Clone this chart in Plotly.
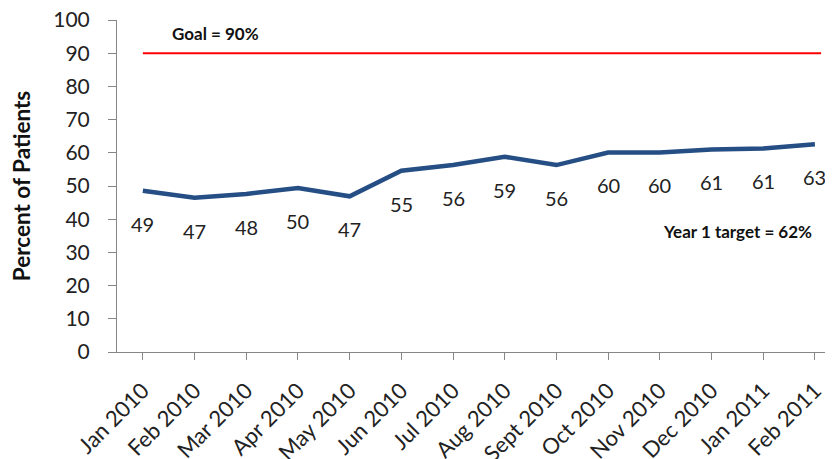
import plotly.graph_objects as go

months = ["Jan 2010", "Feb 2010", "Mar 2010", "Apr 2010", "May 2010", "Jun 2010",
          "Jul 2010", "Aug 2010", "Sept 2010", "Oct 2010", "Nov 2010", "Dec 2010",
          "Jan 2011", "Feb 2011"]
percent = [48.6, 46.5, 47.6, 49.4, 46.9, 54.6, 56.3, 58.8, 56.3, 60.1, 60.1, 61.0, 61.3, 62.6]
point_labels = ["49", "47", "48", "50", "47", "55", "56", "59", "56", "60", "60", "61", "61", "63"]
goal = 90
y_ticks = [0, 10, 20, 30, 40, 50, 60, 70, 80, 90, 100]

FONT = "Lato, 'Open Sans', sans-serif"
idx = list(range(len(months)))

fig = go.Figure()
fig.add_trace(go.Scatter(x=[0, len(months) - 1 + 0.12], y=[goal, goal], mode="lines",
                         line=dict(color="#FF0000", width=2), hoverinfo="skip"))
fig.add_trace(go.Scatter(x=idx, y=percent, mode="lines",
                         line=dict(color="#254E84", width=4.5)))

for i, (v, t) in enumerate(zip(percent, point_labels)):
    fig.add_annotation(x=i, y=v, text=t, showarrow=False, yshift=-33,
                       font=dict(family=FONT, size=20, color="#222222"))

fig.add_annotation(x=1.4, y=96, text="<b>Goal = 90%</b>", showarrow=False,
                   font=dict(family=FONT, size=17, color="#111111"))
fig.add_annotation(x=11.5, y=36.2, text="<b>Year 1 target = 62%</b>", showarrow=False,
                   font=dict(family=FONT, size=17, color="#111111"))

# The page body adds an 8px offset, so the figure is sized to fit the window.
fig.update_layout(
    width=825, height=451,
    margin=dict(l=109, r=0, t=12, b=107),
    paper_bgcolor="white", plot_bgcolor="white",
    showlegend=False,
    font=dict(family=FONT, color="#222222"),
)
fig.update_xaxes(
    range=[-0.5, 13.35], automargin=False,
    tickmode="array", tickvals=idx, ticktext=months,
    tickangle=-45, tickfont=dict(size=22, color="#222222"),
    showline=True, linecolor="#868686", linewidth=1,
    ticks="outside", ticklen=7, tickcolor="#868686", tickson="boundaries",
    showgrid=False, zeroline=False, ticklabelstandoff=9, ticklabeloverflow="allow",
)
fig.update_yaxes(
    range=[0, 100], automargin=False,
    tickmode="array", tickvals=y_ticks,
    tickfont=dict(size=21, color="#222222"),
    showline=True, linecolor="#868686", linewidth=1,
    ticks="outside", ticklen=8, tickcolor="#868686",
    showgrid=False, zeroline=False, ticklabelstandoff=14, ticklabeloverflow="allow",
    title=dict(text="<b>Percent of Patients</b>", font=dict(size=22.5, color="#111111"), standoff=20),
)

fig.write_html("out.html")
